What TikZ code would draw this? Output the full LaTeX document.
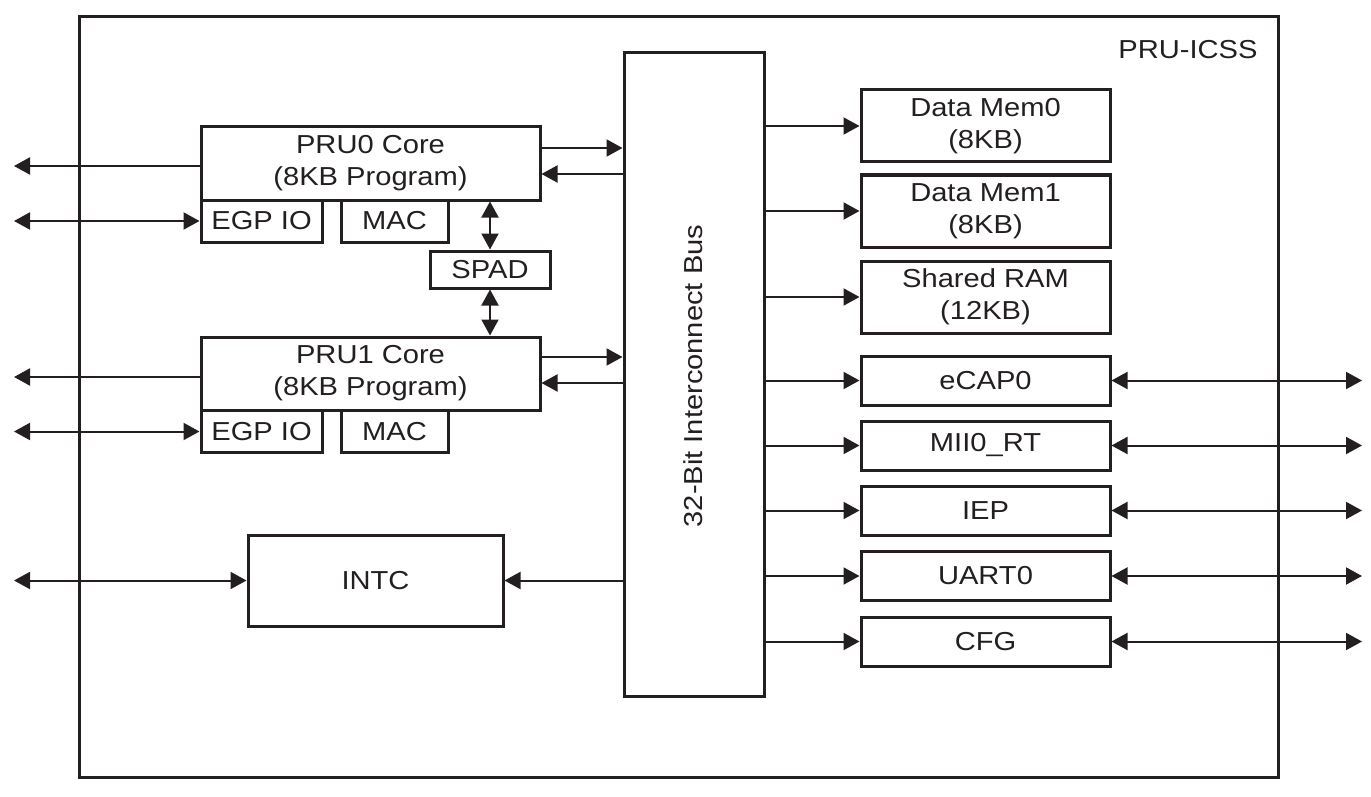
\documentclass[tikz,border=0pt]{standalone}
\usepackage{fontspec}
\setmainfont{Liberation Sans}[FakeStretch=1.12]
\usetikzlibrary{arrows.meta}
\definecolor{ink}{HTML}{231F20}
\begin{document}
\begin{tikzpicture}[x=1pt,y=-1pt,
  every node/.style={text=ink,font=\fontsize{26}{32}\selectfont},
  blk/.style={draw=ink,line width=3pt,inner sep=0pt,align=center},
  conn/.style={draw=ink,line width=2pt},
  tip/.style={-{Triangle[length=16pt,width=17pt]}},
  dtip/.style={{Triangle[length=16pt,width=17pt]}-{Triangle[length=16pt,width=17pt]}}]
\useasboundingbox (0,0) rectangle (1371,797);
% outer frame
\draw[draw=ink,line width=3pt] (79,17) rectangle (1278,777);
\node[anchor=east] (title) at (1261,50) {PRU-ICSS};
% bus
\node[blk,minimum width=140pt,minimum height=643pt] (bus) at (694,374.5) {};
\node[rotate=90] (bustxt) at (693,376) {32-Bit Interconnect Bus};
% PRU0
\node[blk,minimum width=339pt,minimum height=73pt] (pru0) at (370.5,163.5) {PRU0 Core\\(8KB Program)};
\node[blk,minimum width=121pt,minimum height=42pt] (egp0) at (261.5,221) {EGP IO};
\node[blk,minimum width=107pt,minimum height=42pt] (mac0) at (394.5,221) {MAC};
\node[blk,minimum width=120pt,minimum height=37pt] (spad) at (490,269.5) {SPAD};
% PRU1
\node[blk,minimum width=339pt,minimum height=73pt] (pru1) at (370.5,373.5) {PRU1 Core\\(8KB Program)};
\node[blk,minimum width=121pt,minimum height=42pt] (egp1) at (261.5,431.5) {EGP IO};
\node[blk,minimum width=107pt,minimum height=42pt] (mac1) at (394.5,431.5) {MAC};
% INTC
\node[blk,minimum width=255pt,minimum height=91pt] (intc) at (375.5,580.5) {INTC};
% right memories
\node[blk,minimum width=249pt,minimum height=72pt] (dm0) at (985.5,126) {Data Mem0\\(8KB)};
\node[blk,minimum width=249pt,minimum height=72pt] (dm1) at (985.5,211) {Data Mem1\\(8KB)};
\node[blk,minimum width=249pt,minimum height=72pt] (sram) at (985.5,297) {Shared RAM\\(12KB)};
% peripherals
\node[blk,minimum width=249pt,minimum height=49pt] (ecap) at (985.5,380.5) {eCAP0};
\node[blk,minimum width=249pt,minimum height=49pt] (mii) at (985.5,445.5) {MII0\_RT};
\node[blk,minimum width=249pt,minimum height=49pt] (iep) at (985.5,510.5) {IEP};
\node[blk,minimum width=249pt,minimum height=49pt] (uart) at (985.5,576) {UART0};
\node[blk,minimum width=249pt,minimum height=49pt] (cfg) at (985.5,641.5) {CFG};
% free ends
\coordinate (l0) at (14,166);
\coordinate (l1) at (14,221);
\coordinate (l2) at (14,377);
\coordinate (l3) at (14,431.5);
\coordinate (l4) at (14,580.5);
\coordinate (a0) at (0,148);
\coordinate (b0) at (0,174);
\coordinate (a1) at (0,357);
\coordinate (b1) at (0,383);
\coordinate (r) at (1362,0);
% left side
\draw[conn,tip] (pru0.west |- l0) -- (l0);
\draw[conn,dtip] (l1) -- (egp0.west);
\draw[conn,tip] (pru1.west |- l2) -- (l2);
\draw[conn,dtip] (l3) -- (egp1.west);
\draw[conn,dtip] (l4) -- (intc.west);
% PRU <-> bus
\draw[conn,tip] (pru0.east |- a0) -- (bus.west |- a0);
\draw[conn,tip] (bus.west |- b0) -- (pru0.east |- b0);
\draw[conn,tip] (pru1.east |- a1) -- (bus.west |- a1);
\draw[conn,tip] (bus.west |- b1) -- (pru1.east |- b1);
\draw[conn,tip] (bus.west |- intc.east) -- (intc.east);
% SPAD
\draw[conn,dtip] (pru0.south -| spad) -- (spad.north);
\draw[conn,dtip] (spad.south) -- (pru1.north -| spad);
% bus -> right
\foreach \n in {dm0,dm1,sram,ecap,mii,iep,uart,cfg}
  \draw[conn,tip] (bus.east |- \n.west) -- (\n.west);
\foreach \n in {ecap,mii,iep,uart,cfg}
  \draw[conn,dtip] (\n.east) -- (r |- \n.east);
\end{tikzpicture}
\end{document}
